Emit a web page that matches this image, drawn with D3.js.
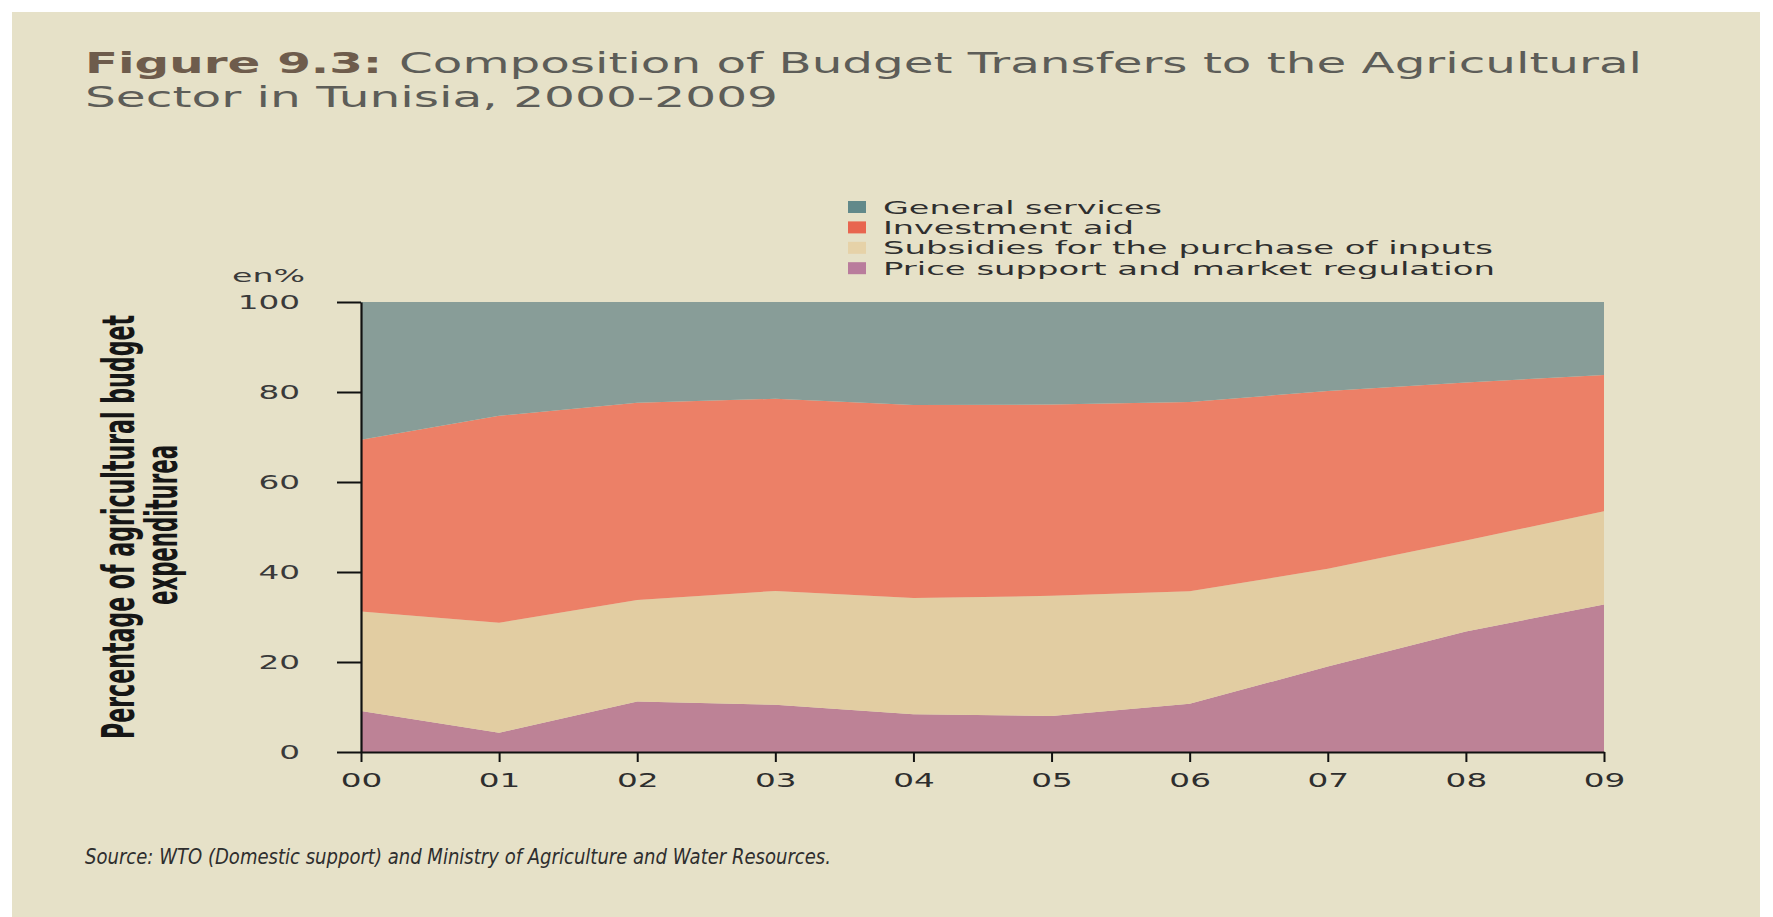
<!DOCTYPE html>
<html>
<head>
<meta charset="utf-8">
<script src="https://cdn.jsdelivr.net/npm/d3@7"></script>
<style>
  html, body { margin: 0; padding: 0; background: #ffffff; }
  svg { display: block; }
</style>
</head>
<body>
<svg id="chart" width="1773" height="917"></svg>
<script>
// Budget transfers to Tunisian agriculture, share of total (%), 2000-2009
const years = ["00", "01", "02", "03", "04", "05", "06", "07", "08", "09"];
const priceSupport    = [9.1, 4.3, 11.2, 10.5, 8.4, 8.0, 10.7, 19.0, 26.8, 32.8];
const inputSubsidies  = [22.1, 24.4, 22.6, 25.3, 25.8, 26.7, 25.0, 21.7, 20.2, 20.7];
const investmentAid   = [38.2, 46.0, 43.8, 42.7, 42.9, 42.5, 42.1, 39.5, 35.1, 30.3];
const generalServices = [30.6, 25.3, 22.4, 21.5, 22.9, 22.8, 22.2, 19.8, 17.9, 16.2];

const seriesKeys = ["price", "subsidies", "investment", "general"];
const seriesNames = {
  general: "General services",
  investment: "Investment aid",
  subsidies: "Subsidies for the purchase of inputs",
  price: "Price support and market regulation"
};
const legendOrder = ["general", "investment", "subsidies", "price"];
const yTicks = [0, 20, 40, 60, 80, 100];

const fillColors = {
  general: "#889d98",
  investment: "#ec8067",
  subsidies: "#e2cda2",
  price: "#bd8296"
};
const swatchColors = {
  general: "#62898a",
  investment: "#e8654f",
  subsidies: "#e6d2a8",
  price: "#b97c9c"
};

const rows = years.map((yr, i) => ({
  year: yr,
  price: priceSupport[i],
  subsidies: inputSubsidies[i],
  investment: investmentAid[i],
  general: generalServices[i]
}));

const svg = d3.select("#chart");
const FONT = "'DejaVu Sans', Verdana, sans-serif";

// stretch a text horizontally by a factor, or to a fixed width
function widen(sel, factor) {
  sel.each(function () {
    const w = this.getComputedTextLength();
    this.setAttribute("textLength", w * factor);
    this.setAttribute("lengthAdjust", "spacingAndGlyphs");
  });
}
function fitWidth(sel, width) {
  sel.attr("textLength", width).attr("lengthAdjust", "spacingAndGlyphs");
}

// page panel
svg.append("rect")
  .attr("x", 12).attr("y", 12)
  .attr("width", 1748).attr("height", 905)
  .attr("fill", "#e6e1c8");

// title
const t1 = svg.append("text")
  .attr("x", 85).attr("y", 73)
  .attr("font-family", FONT).attr("font-size", 29);
t1.append("tspan").attr("font-weight", "bold").attr("fill", "#6e5c4c").text("Figure 9.3: ");
t1.append("tspan").attr("fill", "#5d5d58").text("Composition of Budget Transfers to the Agricultural");
fitWidth(t1, 1557);

const t2 = svg.append("text")
  .attr("x", 85).attr("y", 107)
  .attr("font-family", FONT).attr("font-size", 29)
  .attr("fill", "#5d5d58")
  .text("Sector in Tunisia, 2000-2009");
fitWidth(t2, 693);

// scales
const x = d3.scalePoint().domain(years).range([361, 1604]);
const y = d3.scaleLinear().domain([0, 100]).range([752, 302]);

// stacked areas
const stacked = d3.stack().keys(seriesKeys)(rows);
const area = d3.area()
  .x(d => x(d.data.year))
  .y0(d => y(d[0]))
  .y1(d => y(d[1]));

svg.append("g")
  .selectAll("path")
  .data(stacked)
  .join("path")
  .attr("d", area)
  .attr("fill", d => fillColors[d.key]);

// y axis
const yAxis = svg.append("g")
  .attr("transform", "translate(361,0)")
  .call(d3.axisLeft(y).tickValues(yTicks).tickSize(24).tickPadding(30).tickSizeOuter(0));
yAxis.select(".domain").attr("stroke", "#111").attr("stroke-width", 2.2);
yAxis.selectAll(".tick line").attr("stroke", "#111").attr("stroke-width", 2);
yAxis.selectAll(".tick text")
  .attr("font-family", FONT).attr("font-size", 19)
  .attr("fill", "#3a3a3a").attr("x", -61).attr("dy", "0.36em")
  .call(widen, 1.72);

// x axis
const xAxis = svg.append("g")
  .attr("transform", "translate(0,752)")
  .call(d3.axisBottom(x).tickSize(10).tickPadding(12).tickSizeOuter(0));
xAxis.select(".domain").attr("stroke", "#111").attr("stroke-width", 2.2);
xAxis.selectAll(".tick line").attr("stroke", "#111").attr("stroke-width", 2);
xAxis.selectAll(".tick text")
  .attr("font-family", FONT).attr("font-size", 19)
  .attr("fill", "#2e2e2e")
  .call(widen, 1.72);

// unit label
const unit = svg.append("text")
  .attr("x", 305).attr("y", 282)
  .attr("text-anchor", "end")
  .attr("font-family", FONT).attr("font-size", 18)
  .attr("fill", "#3a3a3a")
  .text("en%");
fitWidth(unit, 73);

// y axis title, two lines
const yTitle = svg.append("g")
  .attr("font-family", "'Liberation Sans Narrow', 'DejaVu Sans Condensed', 'DejaVu Sans', sans-serif")
  .attr("font-weight", "bold").attr("font-size", 44).attr("fill", "#161616")
  .attr("text-anchor", "middle");
const yt1 = yTitle.append("text")
  .attr("transform", "translate(134,527) rotate(-90)")
  .text("Percentage of agricultural budget");
fitWidth(yt1, 424);
const yt2 = yTitle.append("text")
  .attr("transform", "translate(177,525) rotate(-90)")
  .text("expenditurea");
fitWidth(yt2, 160);

// legend
const legendWidths = { general: 279, investment: 251, subsidies: 610, price: 612 };
const legend = svg.append("g");
legendOrder.forEach((k, i) => {
  const cy = 207 + i * 20.4;
  legend.append("rect")
    .attr("x", 848).attr("y", cy - 6)
    .attr("width", 18).attr("height", 12)
    .attr("fill", swatchColors[k]);
  const lt = legend.append("text")
    .attr("x", 883).attr("y", cy + 6.5)
    .attr("font-family", FONT).attr("font-size", 18)
    .attr("fill", "#2f2f2f")
    .text(seriesNames[k]);
  fitWidth(lt, legendWidths[k]);
});

// source note
const src = svg.append("text")
  .attr("x", 85).attr("y", 864)
  .attr("font-family", FONT).attr("font-style", "italic").attr("font-size", 22)
  .attr("fill", "#2e2e2e")
  .text("Source: WTO (Domestic support) and Ministry of Agriculture and Water Resources.");
fitWidth(src, 746);
</script>
</body>
</html>
